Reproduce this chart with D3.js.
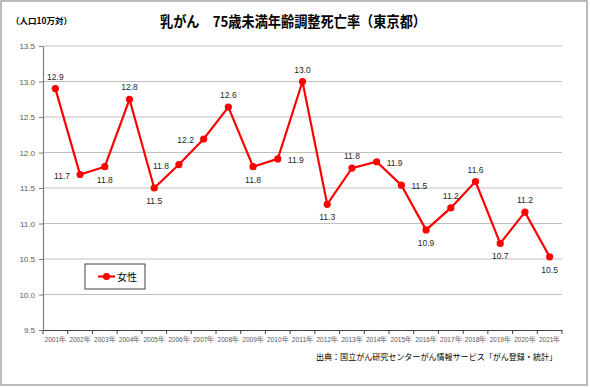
<!DOCTYPE html>
<html>
<head>
<meta charset="utf-8">
<script src="https://cdn.jsdelivr.net/npm/d3@7"></script>
<style>
  body { margin: 0; background: #fff; }
  svg { font-family: "Noto Sans CJK JP", "Noto Sans", sans-serif; }
</style>
</head>
<body>
<div id="graph"></div>
<script>
// data
var years = ["2001年","2002年","2003年","2004年","2005年","2006年","2007年","2008年","2009年","2010年","2011年",
             "2012年","2013年","2014年","2015年","2016年","2017年","2018年","2019年","2020年","2021年"];
var rates = [12.90, 11.69, 11.80, 12.75, 11.50, 11.83, 12.19, 12.64, 11.80, 11.91, 13.00,
             11.27, 11.78, 11.87, 11.54, 10.91, 11.22, 11.59, 10.72, 11.16, 10.53];
// where each data label sits relative to its point
var labelPos = ["top","left","bottom","top","bottom","left","left","top","bottom","right","top",
                "bottom","top","right","right","bottom","top","top","bottom","top","bottom"];
var yTicks = [9.5, 10.0, 10.5, 11.0, 11.5, 12.0, 12.5, 13.0, 13.5];

var svg = d3.select('#graph').append("svg")
  .attr('width', 590)
  .attr('height', 387);

var margin = {top: 46, right: 28, bottom: 57, left: 43},
    width = 590 - margin.left - margin.right,
    height = 387 - margin.top - margin.bottom;

// outer frame
svg.append("rect")
  .attr("x", 1).attr("y", 1)
  .attr("width", 586).attr("height", 384)
  .attr("fill", "none").attr("stroke", "#a6a6a6").attr("stroke-width", 1.5);

var g = svg.append("g").attr("transform", "translate(" + margin.left + "," + margin.top + ")");

var x = d3.scaleBand().domain(years).range([0, width]);
var y = d3.scaleLinear().domain([9.5, 13.5]).range([height, 0]);

// grid lines
g.selectAll(".grid")
  .data(yTicks.filter(function(d) { return d > 9.5; }))
  .enter().append("line")
  .attr("x1", 0).attr("x2", width)
  .attr("y1", function(d) { return y(d); })
  .attr("y2", function(d) { return y(d); })
  .attr("stroke", "#bfbfbf").attr("stroke-width", 1.2);

// y axis
var yAxis = g.append("g")
  .call(d3.axisLeft(y).tickValues(yTicks).tickFormat(d3.format(".1f")).tickSize(4).tickSizeOuter(0));
yAxis.select(".domain").attr("stroke", "#7f7f7f").attr("stroke-width", 1.2);
yAxis.selectAll(".tick line").attr("stroke", "#7f7f7f");
yAxis.selectAll("text").attr("fill", "#595959").style("font-size", "8px").attr("x", -8)
  .style("font-family", "'Liberation Sans', Arial, sans-serif");

// x axis, ticks between categories
var xAxis = g.append("g")
  .attr("transform", "translate(0," + height + ")")
  .call(d3.axisBottom(x).tickSize(0).tickSizeOuter(0).tickPadding(7));
xAxis.select(".domain").attr("stroke", "#404040").attr("stroke-width", 1.2);
xAxis.selectAll("text").attr("fill", "#595959").style("font-size", "7.5px")
  .attr("textLength", 21.5).attr("lengthAdjust", "spacingAndGlyphs");
g.selectAll(".xtick")
  .data(d3.range(years.length + 1))
  .enter().append("line")
  .attr("x1", function(i) { return i * x.step(); })
  .attr("x2", function(i) { return i * x.step(); })
  .attr("y1", height).attr("y2", height + 4)
  .attr("stroke", "#404040");

// line
var line = d3.line()
  .x(function(d, i) { return x(years[i]) + x.bandwidth() / 2; })
  .y(function(d) { return y(d); });

g.append("path")
  .datum(rates)
  .attr("d", line)
  .attr("fill", "none")
  .attr("stroke", "#ff0000")
  .attr("stroke-width", 2.2);

g.selectAll(".dot")
  .data(rates)
  .enter().append("circle")
  .attr("cx", function(d, i) { return x(years[i]) + x.bandwidth() / 2; })
  .attr("cy", function(d) { return y(d); })
  .attr("r", 3.6)
  .attr("fill", "#ff0000");

// data labels
var off = {top: [0, -9], bottom: [0, 16], left: [-18, 4], right: [18, 4]};
g.selectAll(".lbl")
  .data(rates)
  .enter().append("text")
  .attr("x", function(d, i) { return x(years[i]) + x.bandwidth() / 2 + off[labelPos[i]][0]; })
  .attr("y", function(d, i) { return y(d) + off[labelPos[i]][1]; })
  .attr("text-anchor", "middle")
  .style("font-size", "8.5px")
  .style("font-family", "'Liberation Sans', Arial, sans-serif")
  .attr("fill", "#262626")
  .text(function(d) { return d3.format(".1f")(d); });

// legend
var lg = svg.append("g").attr("transform", "translate(85,264)");
lg.append("rect").attr("width", 60).attr("height", 25)
  .attr("fill", "#fff").attr("stroke", "#404040").attr("stroke-width", 1);
lg.append("line").attr("x1", 13).attr("x2", 30).attr("y1", 12.5).attr("y2", 12.5)
  .attr("stroke", "#ff0000").attr("stroke-width", 2.2);
lg.append("circle").attr("cx", 21.5).attr("cy", 12.5).attr("r", 3.6).attr("fill", "#ff0000");
lg.append("text").attr("x", 32).attr("y", 16.5).style("font-size", "10px").attr("fill", "#000").text("女性");

// titles
svg.append("text")
  .attr("x", 160).attr("y", 27)
  .style("font-size", "14.5px").style("font-weight", "bold")
  .attr("textLength", 266).attr("lengthAdjust", "spacingAndGlyphs")
  .text("乳がん　75歳未満年齢調整死亡率（東京都）");

svg.append("text")
  .attr("x", 11).attr("y", 24)
  .style("font-size", "8.5px").style("font-weight", "bold")
  .text("（人口10万対）");

svg.append("text")
  .attr("x", 316).attr("y", 360)
  .style("font-size", "8.5px")
  .attr("textLength", 241).attr("lengthAdjust", "spacingAndGlyphs")
  .text("出典：国立がん研究センターがん情報サービス「がん登録・統計」");
</script>
</body>
</html>
